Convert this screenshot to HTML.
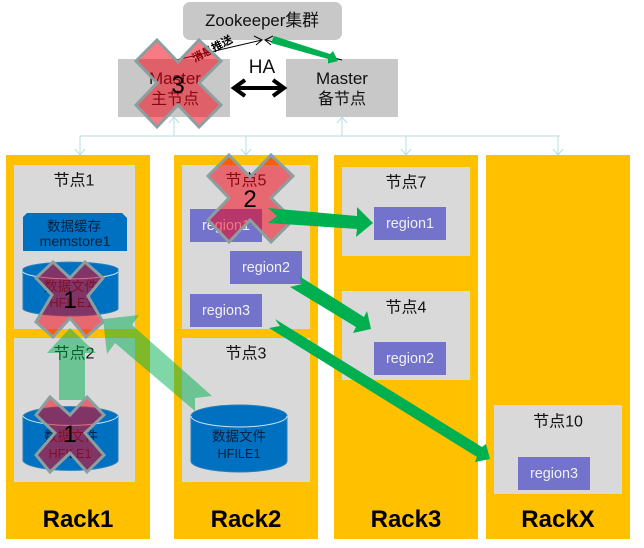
<!DOCTYPE html>
<html><head><meta charset="utf-8"><style>
html,body{margin:0;padding:0;background:#fff}
svg{display:block}
text{font-family:"Liberation Sans","Noto Sans CJK SC",sans-serif;text-anchor:middle;fill:#111}
.rack{fill:#ffc000}.node{fill:#d9d9d9}.reg{fill:#7373cc}
.rt{fill:#f0f0f0;font-size:14.4px}
.n{font-size:16px}
.rl{font-size:24px;font-weight:bold;fill:#000}
.cy{fill:#0070c0;stroke:#2a7fb8;stroke-width:1}
.g{fill:#00b050}
.lg{fill:#00b050;fill-opacity:.5}
.x{fill:#f50014;fill-opacity:.52;stroke:#8c9fa0;stroke-width:3;stroke-linejoin:miter}
.num{font-size:24px;fill:#000}
.cl{fill:#06213f;font-size:13.5px}
</style></head><body>
<svg width="644" height="548" viewBox="0 0 644 548" xmlns="http://www.w3.org/2000/svg">
<rect width="644" height="548" fill="#fff"/>
<!-- connector bus -->
<g stroke="#b5dde0" stroke-width="1" fill="none">
<path d="M80 136H560"/>
<path d="M174 136V117M169 123L174 117L179 123"/>
<path d="M342 136V117M337 123L342 117L347 123"/>
<path d="M80 136V155M75 149L80 155L85 149"/>
<path d="M246 136V155M241 149L246 155L251 149"/>
<path d="M406 136V155M401 149L406 155L411 149"/>
<path d="M558 136V155M553 149L558 155L563 149"/>
</g>
<!-- racks -->
<rect class="rack" x="6" y="155" width="144" height="384"/>
<rect class="rack" x="174" y="155" width="144" height="384"/>
<rect class="rack" x="334" y="155" width="144" height="384"/>
<rect class="rack" x="486" y="155" width="144" height="384"/>
<!-- nodes -->
<rect class="node" x="14" y="165" width="121" height="164"/>
<rect class="node" x="14" y="338" width="121" height="144"/>
<rect class="node" x="182" y="165" width="128" height="164"/>
<rect class="node" x="182" y="338" width="128" height="144"/>
<rect class="node" x="342" y="167" width="128" height="89"/>
<rect class="node" x="342" y="291" width="128" height="89"/>
<rect class="node" x="494" y="405" width="128" height="89"/>
<text class="n" x="74" y="185.500">节点1</text>
<text class="n" x="74" y="358.500">节点2</text>
<text class="n" x="246" y="185.500">节点5</text>
<text class="n" x="246" y="358.500">节点3</text>
<text class="n" x="406" y="187.500">节点7</text>
<text class="n" x="406" y="312.500">节点4</text>
<text class="n" x="558" y="426.500">节点10</text>
<!-- regions -->
<rect class="reg" x="190" y="209" width="72" height="33"/><text class="rt" x="226" y="230">region1</text>
<rect class="reg" x="230" y="251" width="72" height="33"/><text class="rt" x="266" y="272">region2</text>
<rect class="reg" x="190" y="294" width="72" height="33"/><text class="rt" x="226" y="315">region3</text>
<rect class="reg" x="374" y="207" width="72" height="33"/><text class="rt" x="410" y="228">region1</text>
<rect class="reg" x="374" y="342" width="72" height="33"/><text class="rt" x="410" y="363">region2</text>
<rect class="reg" x="518" y="457" width="72" height="33"/><text class="rt" x="554" y="478">region3</text>
<!-- memstore -->
<path d="M27 213H122L127 218V251H23V217Z" fill="#0070c0"/>
<text class="cl" x="74" y="231">数据缓存</text>
<text class="cl" x="75" y="246" style="font-size:14.2px">memstore1</text>
<!-- cylinders -->
<path class="cy" d="M23 269A48 8 0 0 1 118 269V309A48 8 0 0 1 23 309Z"/>
<path d="M23 272A48 8 0 0 0 118 272" fill="none" stroke="#cfe3f2" stroke-width="1"/>
<text class="cl" x="71" y="291">数据文件</text>
<text class="cl" x="71" y="307" style="font-size:12.7px">HFILE1</text>
<path class="cy" d="M23 416A48 11 0 0 1 118 416V461A48 11 0 0 1 23 461Z"/>
<path d="M23 416A48 11 0 0 0 118 416" fill="none" stroke="#cfe3f2" stroke-width="1"/>
<text class="cl" x="71" y="441">数据文件</text>
<text class="cl" x="70" y="458" style="font-size:12.7px">HFILE1</text>
<path class="cy" d="M191 416A48 11 0 0 1 287 416V461A48 11 0 0 1 191 461Z"/>
<path d="M191 416A48 11 0 0 0 287 416" fill="none" stroke="#cfe3f2" stroke-width="1"/>
<text class="cl" x="239" y="441">数据文件</text>
<text class="cl" x="239" y="458" style="font-size:12.7px">HFILE1</text>
<!-- rack labels -->
<text class="rl" x="78" y="527">Rack1</text>
<text class="rl" x="246" y="527">Rack2</text>
<text class="rl" x="406" y="527">Rack3</text>
<text class="rl" x="558" y="527">RackX</text>
<!-- masters & zookeeper -->
<rect x="183" y="2" width="159" height="38" rx="7" fill="#c8c8c8"/>
<text x="262" y="26" style="font-size:16.8px">Zookeeper集群</text>
<rect x="118" y="59" width="112" height="58" fill="#c8c8c8"/>
<rect x="286" y="59" width="112" height="58" fill="#c8c8c8"/>
<text x="175" y="84" style="font-size:17px">Master</text>
<text x="175" y="104" style="font-size:16px">主节点</text>
<text x="342" y="84" style="font-size:17px">Master</text>
<text x="342" y="104" style="font-size:16px">备节点</text>
<text x="262" y="73" style="font-size:19px">HA</text>
<g stroke="#000" fill="none" stroke-width="4">
<path d="M236 88H282"/><path d="M245 80L234 88L245 96"/><path d="M273 80L284 88L273 96"/>
</g>
<!-- thin arrows -->
<g stroke="#000" fill="none" stroke-width="1">
<path d="M176 60L262 40M254 36L262 40L256 45"/>
<path d="M342 60L266 40M273 36L265 40L271 45"/>
</g>
<text transform="translate(214,52) rotate(-28)" style="font-size:11px;font-weight:bold;fill:#000">消息推送</text>
<!-- light arrows -->
<path class="lg" d="M59 400V353H47L70 328L96 353H85V400Z"/>
<path class="lg" d="M103 319L139 315L132 325L212 396L195 398V411L115 343L107 354Z"/>
<!-- crosses -->
<path class="x" d="M157 40L178 62L199 40L221 61L199 83L221 105L199 127L178 105L157 127L136 105L157 83L136 61Z"/>
<path class="x" d="M229 155L250 177L271 155L293 176L271 198L293 220L271 242L250 220L229 242L208 220L229 198L208 176Z"/>
<path class="x" d="M53 262L70 278L85 262L103 278L88 296L103 322L86 337L70 318L53 337L36 322L52 295L36 278Z"/>
<path class="x" d="M50 397L70 415L87 397L104 415L85 433L104 455L87 472L70 453L50 472L36 455L55 433L36 415Z"/>
<text class="num" x="178" y="93">3</text>
<text class="num" x="250" y="207">2</text>
<text class="num" x="70" y="308">1</text>
<text class="num" x="70" y="442">1</text>
<!-- solid green arrows -->
<path class="g" d="M274 36L330 54L333 51L338 61L328 63.500L328 59L271 43Z"/>
<path class="g" d="M268 208L357 216V207L373 223L356 237L357 229L268 223L277 216Z"/>
<path class="g" d="M299 276L364 317L367 311L371 329L353 333L356 327L290 287L302 284Z"/>
<path class="g" d="M275 319L482 447L486 444L490 459L475 462L477 457L269 328L280 326Z"/>
</svg>
</body></html>
